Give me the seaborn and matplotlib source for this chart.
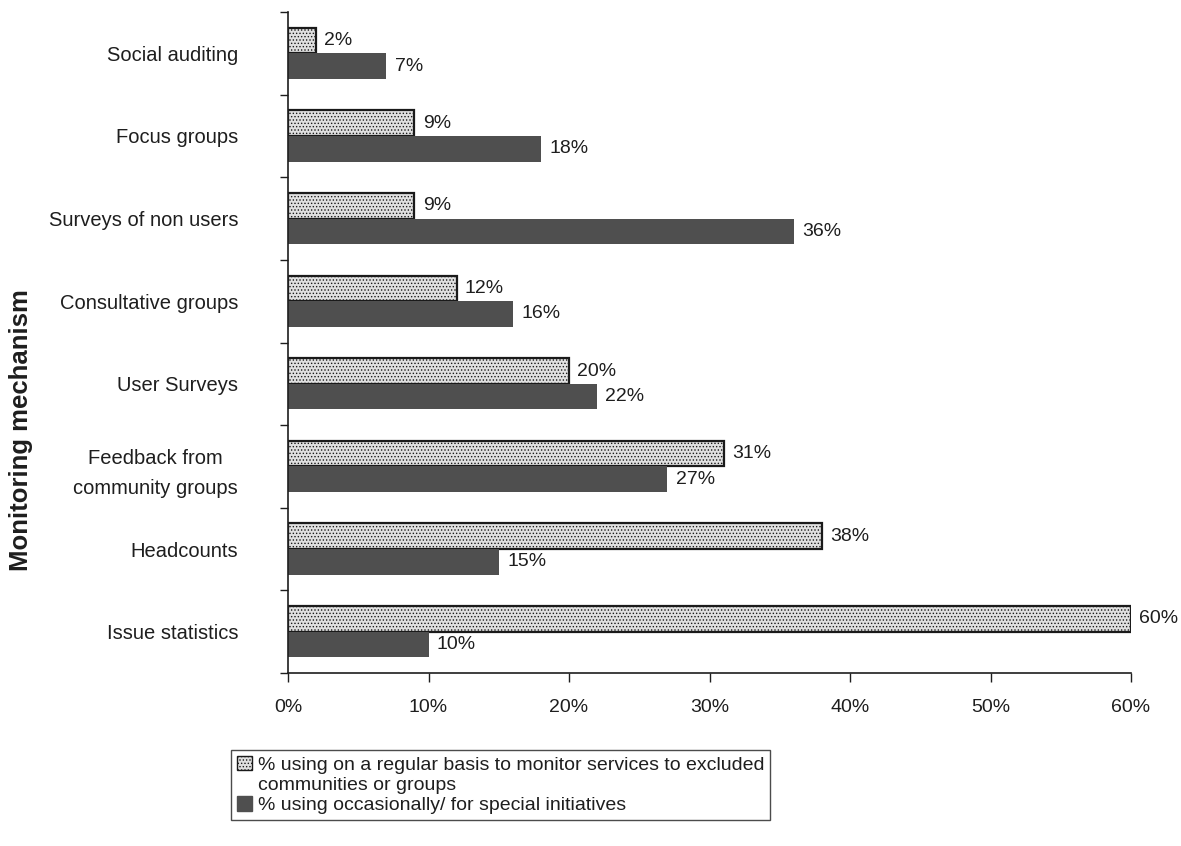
import numpy as np
import pandas as pd
import matplotlib
matplotlib.use("Agg")
import matplotlib.pyplot as plt
import seaborn as sns
from matplotlib.ticker import FuncFormatter
from matplotlib.patches import Patch

categories = ['Social auditing', 'Focus groups', 'Surveys of non users',
              'Consultative groups', 'User Surveys',
              'Feedback from\ncommunity groups', 'Headcounts', 'Issue statistics']
regular = [2, 9, 9, 12, 20, 31, 38, 60]
occasional = [7, 18, 36, 16, 22, 27, 15, 10]
series_names = ['% using on a regular basis to monitor services to excluded\ncommunities or groups',
                '% using occasionally/ for special initiatives']
x_ticks = [0, 10, 20, 30, 40, 50, 60]

sns.set_theme(style="white")
plt.rcParams['font.family'] = ['Liberation Sans', 'DejaVu Sans']
plt.rcParams['hatch.linewidth'] = 0.6

df = pd.DataFrame({
    'cat': categories * 2,
    'value': regular + occasional,
    'series': [series_names[0]] * len(categories) + [series_names[1]] * len(categories),
})

light = '#e0e0e0'
dark = '#4f4f4f'
txt = '#1e1e1e'

fig = plt.figure(figsize=(11.81, 8.46), dpi=100)
ax = fig.add_axes([0.2439, 0.2045, 0.9577 - 0.2439, 0.9858 - 0.2045])

sns.barplot(data=df, y='cat', x='value', hue='series', orient='h',
            order=categories, hue_order=series_names,
            palette=[light, dark], width=0.62, ax=ax, legend=False,
            saturation=1)

for patch in ax.containers[0]:
    patch.set_facecolor(light)
    patch.set_edgecolor('#1a1a1a')
    patch.set_linewidth(1.6)
    patch.set_hatch('.....')
for patch in ax.containers[1]:
    patch.set_facecolor(dark)
    patch.set_edgecolor(dark)
    patch.set_linewidth(0)

for cont in ax.containers:
    ax.bar_label(cont, labels=[f"{int(v)}%" for v in cont.datavalues],
                 padding=6, fontsize=14, color=txt)

ax.set_xlim(0, 60)
ax.set_ylim(7.5, -0.5)
ax.set_xticks(x_ticks)
ax.xaxis.set_major_formatter(FuncFormatter(lambda v, p: f"{int(v)}%"))
ax.set_yticks(range(len(categories)))
ax.set_yticklabels(categories, fontsize=14.5, color=txt, multialignment='center',
                   linespacing=1.7)
ax.set_yticks(np.arange(-0.5, len(categories), 1), minor=True)
ax.tick_params(axis='y', which='major', length=0, pad=36)
ax.tick_params(axis='y', which='minor', length=6, width=1, color=txt, left=True)
ax.tick_params(axis='x', which='major', length=6.5, width=1, color=txt,
               bottom=True, labelsize=14, labelcolor=txt, pad=12)

for s in ['top', 'right']:
    ax.spines[s].set_visible(False)
for s in ['left', 'bottom']:
    ax.spines[s].set_color(txt)
    ax.spines[s].set_linewidth(1.2)

ax.set_xlabel('')
ax.set_ylabel('Monitoring mechanism', fontsize=18.5, fontweight='bold', color=txt)
ax.yaxis.set_label_coords(-0.302, 0.367)

legend_labels = ['% using on a regular basis to monitor services to excluded',
                 'communities or groups',
                 '% using occasionally/ for special initiatives']
handles = [Patch(facecolor=light, edgecolor='#1a1a1a', hatch='.....', linewidth=1),
           Patch(facecolor='none', edgecolor='none'),
           Patch(facecolor=dark, edgecolor=dark)]
leg = fig.legend(handles, legend_labels, loc='upper left', bbox_to_anchor=(0.196, 0.1135),
                 fontsize=14, frameon=True, fancybox=False, edgecolor=txt,
                 handlelength=0.75, handleheight=0.75, handletextpad=0.3,
                 borderpad=0.3, labelspacing=0.12, borderaxespad=0)
leg.get_frame().set_linewidth(1.0)
for t in leg.get_texts():
    t.set_color(txt)

fig.savefig('out.png', dpi=100)
